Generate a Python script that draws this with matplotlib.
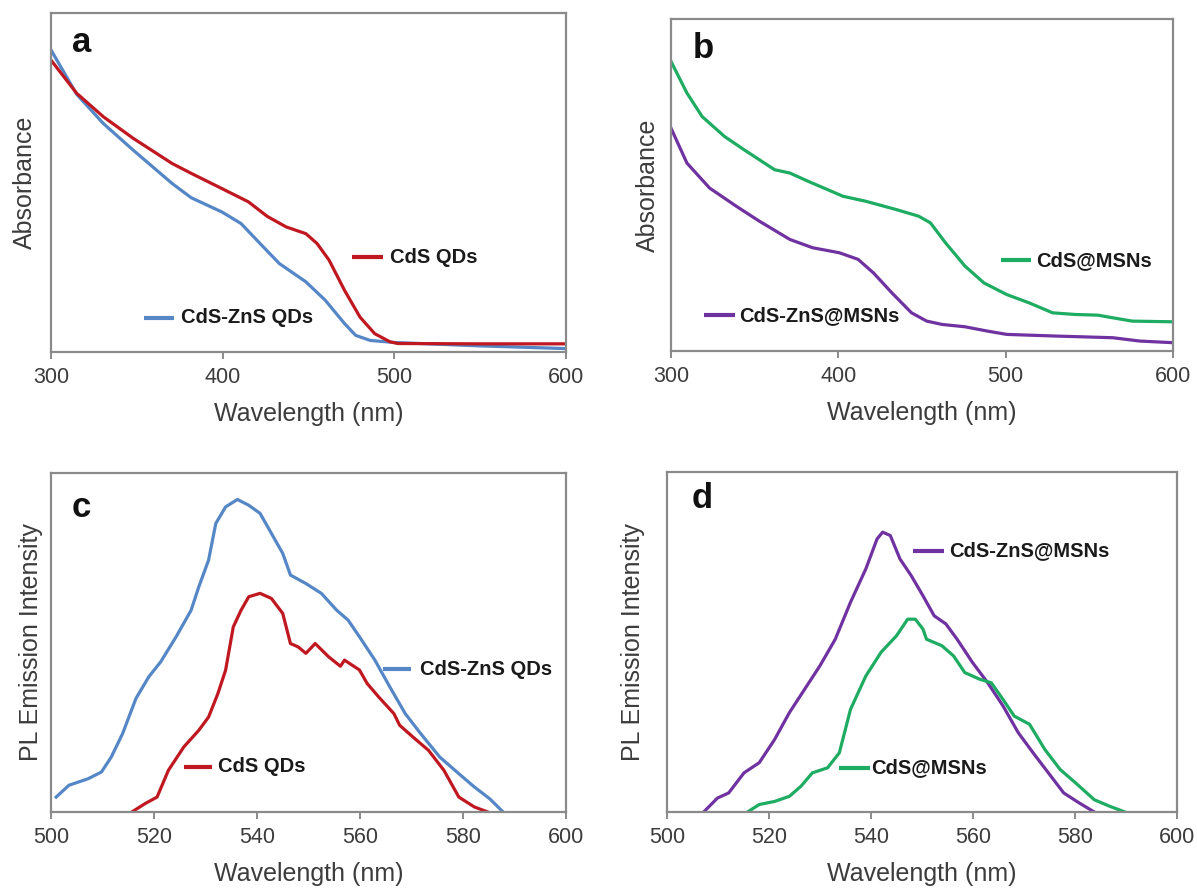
import numpy as np
import matplotlib.pyplot as plt

plt.rcParams['font.family'] = ['Liberation Sans', 'DejaVu Sans']
plt.rcParams['lines.solid_joinstyle'] = 'round'

# (a) UV-vis absorbance of the bare quantum dots
abs_qd_x = [300, 315, 330.5, 348, 370.6, 381.7, 399.6, 415, 426, 437, 448.5, 455, 462, 471, 480,
            488.6, 497.5, 502, 550, 600]
abs_cds = [0.861, 0.763, 0.694, 0.630, 0.556, 0.527, 0.482, 0.443, 0.400, 0.369, 0.349, 0.320,
           0.271, 0.182, 0.103, 0.054, 0.030, 0.025, 0.024, 0.024]
abs_cdszns_x = [300, 315, 330.5, 348, 370.6, 381.7, 399.6, 410.7, 421.8, 433, 448.5, 459.7, 471,
                477.5, 486, 500, 550, 600]
abs_cdszns = [0.891, 0.760, 0.674, 0.595, 0.497, 0.455, 0.413, 0.379, 0.320, 0.261, 0.207, 0.153,
              0.084, 0.049, 0.034, 0.028, 0.018, 0.010]

# (b) UV-vis absorbance of the MSN composites
abs_msn_x = [300, 309.5, 318.6, 332, 343.7, 361.9, 371, 382, 402.8, 416.4, 434.6, 448, 455, 464,
             475.6, 487, 500.6, 514, 528, 541.5, 555, 564, 575.6, 600]
abs_cds_msn = [0.872, 0.777, 0.706, 0.646, 0.606, 0.546, 0.536, 0.511, 0.466, 0.451, 0.426, 0.406,
               0.386, 0.326, 0.256, 0.205, 0.170, 0.145, 0.115, 0.110, 0.108, 0.100, 0.090, 0.088]
abs_zns_msn_x = [300, 309.5, 323, 339, 352.8, 371, 384.6, 400.5, 411.8, 421, 432, 443.7, 452.8,
                 462, 475.6, 489, 500.6, 530, 564, 580, 600]
abs_zns_msn = [0.671, 0.566, 0.491, 0.436, 0.391, 0.336, 0.311, 0.296, 0.276, 0.235, 0.175, 0.115,
               0.090, 0.080, 0.073, 0.060, 0.050, 0.045, 0.040, 0.030, 0.025]

# (c) PL emission of the bare quantum dots
pl_zns_x = [501, 503.5, 507.2, 509.8, 511.7, 513.9, 516.5, 519, 521.3, 524.3, 527.2, 528.7, 530.6,
            532, 533.9, 536.2, 538.4, 540.6, 542.8, 545, 546.5, 549.5, 552.5, 555.5, 557.7, 559.9,
            562.9, 565.8, 568.8, 571.8, 575.5, 579.2, 582.2, 585.2, 587.8]
pl_zns = [0.044, 0.079, 0.098, 0.118, 0.162, 0.231, 0.335, 0.399, 0.443, 0.517, 0.595, 0.664,
          0.743, 0.851, 0.900, 0.922, 0.905, 0.881, 0.822, 0.763, 0.699, 0.674, 0.645, 0.595,
          0.566, 0.517, 0.448, 0.369, 0.290, 0.231, 0.162, 0.113, 0.074, 0.039, 0.0]
pl_cds_x = [515.7, 518.3, 520.6, 522.8, 525.8, 528.7, 530.6, 532.4, 533.9, 535.4, 536.9, 538.4,
            540.6, 542.8, 545, 546.5, 548, 549.5, 551.3, 553.9, 556.2, 557, 559.9, 561.4, 563.6,
            566.6, 567.7, 570.3, 573.3, 576.3, 579.2, 582.2, 584.8]
pl_cds = [0.0, 0.025, 0.044, 0.123, 0.192, 0.241, 0.280, 0.349, 0.418, 0.546, 0.595, 0.635,
          0.645, 0.630, 0.586, 0.497, 0.487, 0.468, 0.497, 0.458, 0.430, 0.448, 0.419, 0.379,
          0.340, 0.290, 0.256, 0.221, 0.182, 0.123, 0.044, 0.015, 0.0]

# (d) PL emission of the MSN composites
pl_zns_msn_x = [507.2, 509.9, 512.1, 515.1, 518.1, 521.1, 524, 527, 530, 533, 536, 539, 541.2,
                542.3, 543.8, 545.7, 547.9, 550.2, 552.4, 554.7, 556.9, 559.9, 562.9, 565.9,
                568.9, 571.8, 574.8, 577.8, 580.8, 583.8]
pl_zns_msn = [0.0, 0.041, 0.056, 0.115, 0.145, 0.213, 0.292, 0.361, 0.430, 0.508, 0.617, 0.715,
              0.803, 0.823, 0.813, 0.744, 0.695, 0.636, 0.577, 0.553, 0.508, 0.440, 0.380, 0.312,
              0.233, 0.174, 0.115, 0.056, 0.027, 0.0]
pl_cds_msn_x = [515.8, 518.1, 521.1, 524, 526.3, 528.5, 531.5, 533.8, 536, 539, 542, 545, 547.2,
                548.7, 550.2, 550.9, 553.9, 556.2, 558.4, 561.4, 563.6, 565.9, 568.1, 571.1,
                574.1, 577.1, 580.1, 583.8, 586.8, 589.8]
pl_cds_msn = [0.0, 0.022, 0.031, 0.046, 0.076, 0.115, 0.130, 0.174, 0.302, 0.400, 0.470, 0.518,
              0.567, 0.567, 0.538, 0.508, 0.489, 0.459, 0.410, 0.390, 0.380, 0.331, 0.282, 0.258,
              0.184, 0.125, 0.086, 0.036, 0.017, 0.0]

RED = '#C01820'
BLUE = '#5587C6'
GREEN = '#1EAB62'
PURPLE = '#7032A0'
GRAY = '#8A8A8A'
TXT = '#3C3C3C'


def style(ax, xlim, xticks, ylabel, ylabelpad):
    ax.set_xlim(*xlim)
    ax.set_ylim(0, 1)
    ax.set_xticks(xticks)
    ax.set_yticks([])
    for s in ax.spines.values():
        s.set_color(GRAY)
        s.set_linewidth(1.6)
    ax.tick_params(axis='x', direction='out', length=5, width=1.4, color=GRAY,
                   labelsize=15.5, labelcolor=TXT, pad=6)
    ax.set_xlabel('Wavelength (nm)', fontsize=18, color=TXT, labelpad=10)
    ax.set_ylabel(ylabel, fontsize=18, color=TXT, labelpad=ylabelpad)


def tag(ax, x0, x1, xt, y, text, color):
    ax.plot([x0, x1], [y, y], transform=ax.transAxes, color=color, lw=3,
            solid_capstyle='butt', clip_on=False)
    ax.text(xt, y, text, transform=ax.transAxes, fontsize=14.5, fontweight='bold',
            va='center', ha='left', color='#1A1A1A')


def letter(ax, x, y, s):
    ax.text(x, y, s, transform=ax.transAxes, fontsize=25, fontweight='bold',
            ha='center', va='center', color='#111111')


fig = plt.figure(figsize=(11.97, 8.92), dpi=100)
ax_a = fig.add_axes([0.0426, 0.6054, 0.4302, 0.3800])
ax_b = fig.add_axes([0.5606, 0.6065, 0.4194, 0.3722])
ax_c = fig.add_axes([0.0426, 0.0897, 0.4302, 0.3800])
ax_d = fig.add_axes([0.5572, 0.0897, 0.4260, 0.3812])

lw = 2.3

# a
ax_a.plot(abs_cdszns_x, abs_cdszns, color=BLUE, lw=lw)
ax_a.plot(abs_qd_x, abs_cds, color=RED, lw=lw)
style(ax_a, (300, 600), [300, 400, 500, 600], 'Absorbance', 10)
tag(ax_a, 0.584, 0.644, 0.658, 0.28, 'CdS QDs', RED)
tag(ax_a, 0.180, 0.239, 0.252, 0.101, 'CdS-ZnS QDs', BLUE)
letter(ax_a, 0.06, 0.914, 'a')

# b
ax_b.plot(abs_msn_x, abs_cds_msn, color=GREEN, lw=lw)
ax_b.plot(abs_zns_msn_x, abs_zns_msn, color=PURPLE, lw=lw)
style(ax_b, (300, 600), [300, 400, 500, 600], 'Absorbance', 8)
tag(ax_b, 0.657, 0.718, 0.728, 0.273, 'CdS@MSNs', GREEN)
tag(ax_b, 0.066, 0.127, 0.136, 0.107, 'CdS-ZnS@MSNs', PURPLE)
letter(ax_b, 0.064, 0.91, 'b')

# c
ax_c.plot(pl_zns_x, pl_zns, color=BLUE, lw=lw)
ax_c.plot(pl_cds_x, pl_cds, color=RED, lw=lw)
style(ax_c, (500, 600), [500, 520, 540, 560, 580, 600], 'PL Emission Intensity', 6)
tag(ax_c, 0.644, 0.700, 0.716, 0.421, 'CdS-ZnS QDs', BLUE)
tag(ax_c, 0.258, 0.313, 0.324, 0.133, 'CdS QDs', RED)
letter(ax_c, 0.058, 0.897, 'c')

# d
ax_d.plot(pl_zns_msn_x, pl_zns_msn, color=PURPLE, lw=lw)
ax_d.plot(pl_cds_msn_x, pl_cds_msn, color=GREEN, lw=lw)
style(ax_d, (500, 600), [500, 520, 540, 560, 580, 600], 'PL Emission Intensity', 16)
tag(ax_d, 0.483, 0.543, 0.554, 0.769, 'CdS-ZnS@MSNs', PURPLE)
tag(ax_d, 0.338, 0.399, 0.401, 0.13, 'CdS@MSNs', GREEN)
letter(ax_d, 0.069, 0.921, 'd')

fig.savefig('out.png', dpi=100, facecolor='white')
